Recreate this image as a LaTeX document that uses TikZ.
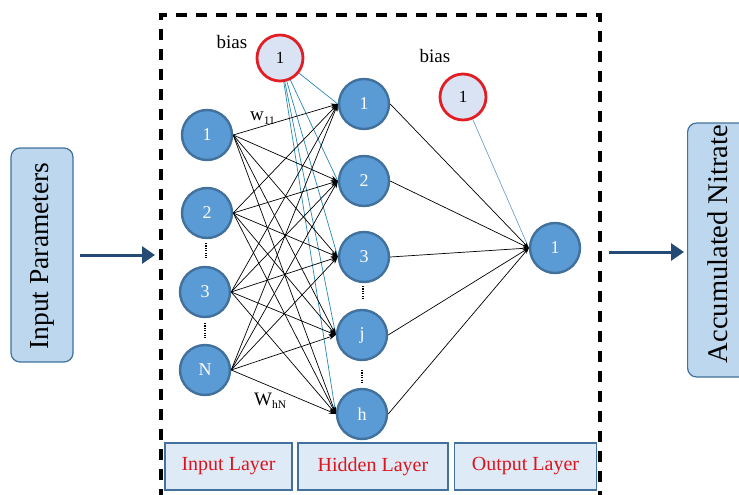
\documentclass[tikz,border=0pt]{standalone}
\usepackage{fontspec}
\setmainfont{Liberation Serif}
\usetikzlibrary{arrows.meta}
\definecolor{nodefill}{RGB}{91,155,213}
\definecolor{nodeedge}{RGB}{65,113,156}
\definecolor{biasfill}{RGB}{218,227,243}
\definecolor{biasred}{RGB}{226,30,36}
\definecolor{sidefill}{RGB}{189,215,238}
\definecolor{layerfill}{RGB}{222,235,247}
\definecolor{arrowblue}{RGB}{36,75,115}
\definecolor{biasline}{RGB}{40,135,175}
\definecolor{biasline2}{RGB}{95,150,200}
\definecolor{labred}{RGB}{220,20,30}
\tikzset{
  neuron/.style={circle,draw=nodeedge,line width=2.4pt,fill=nodefill,minimum size=50pt,inner sep=0pt,text=white,font=\fontsize{18}{20}\selectfont},
  biasnode/.style={circle,draw=biasred,line width=2.8pt,fill=biasfill,minimum size=46pt,inner sep=0pt,font=\fontsize{17}{20}\selectfont},
  sidebox/.style={draw=nodeedge,line width=1.2pt,fill=sidefill,rounded corners=9pt,inner sep=0pt},
  layerbox/.style={draw=nodeedge,line width=1.3pt,fill=layerfill,inner sep=0pt,text=labred,font=\fontsize{20}{22}\selectfont},
  wire/.style={black,line width=0.7pt,-{Stealth[length=7pt,width=5pt]}},
  owire/.style={black,line width=0.7pt,-{Stealth[length=6pt,width=4pt]}},
  bwire/.style={biasline,line width=0.7pt},
  bigarrow/.style={arrowblue,line width=3pt,-{Triangle[length=13pt,width=17pt]}},
  vdots/.style={line width=1.3pt,dash pattern=on 1.2pt off 1.2pt},
  txt/.style={inner sep=0pt,font=\fontsize{19}{22}\selectfont}
}
\newcommand{\mysub}[1]{\raisebox{-3.5pt}{\fontsize{11.5}{12}\selectfont #1}}
\begin{document}
\begin{tikzpicture}[x=1pt,y=-1pt]
\useasboundingbox (0,0) rectangle (739,495);
\clip (0,0) rectangle (739,495);
% dashed frame
\draw[line width=3.4pt,dash pattern=on 11pt off 9pt] (161,500) -- (161,15) -- (600,15) -- (600,500);
% side boxes
\node[sidebox,minimum width=62pt,minimum height=214pt] (inp) at (42,255) {};
\node[rotate=90,font=\fontsize{27.5}{30}\selectfont] (inptxt) at (42,256) {Input Parameters};
\node[sidebox,minimum width=90pt,minimum height=254pt,anchor=west] (outp) at (687,250) {};
\node[rotate=90,font=\fontsize{28.5}{30}\selectfont] (outptxt) at (718,244) {Accumulated Nitrate};
\coordinate (a1s) at (80,255);
\coordinate (a1e) at (155,255);
\coordinate (a2s) at (609,252);
\coordinate (a2e) at (684,252);
\draw[bigarrow] (a1s) -- (a1e);
\draw[bigarrow] (a2s) -- (a2e);
% layer boxes
\node[layerbox,minimum width=127pt,minimum height=47pt] (L1) at (228.5,466.5) {Input Layer};
\node[layerbox,minimum width=150pt,minimum height=47pt] (L2) at (373,466.5) {Hidden Layer};
\node[layerbox,minimum width=142pt,minimum height=47pt] (L3) at (525.5,466.5) {Output Layer};
% input neurons
\node[neuron] (i1) at (207,135) {1};
\node[neuron] (i2) at (207,213) {2};
\node[neuron] (i3) at (205,292) {3};
\node[neuron] (iN) at (205,370) {N};
% hidden neurons
\node[neuron] (h1) at (364,104) {1};
\node[neuron] (h2) at (364,181) {2};
\node[neuron] (h3) at (364,257) {3};
\node[neuron] (hj) at (362,335) {j};
\node[neuron] (hh) at (362,414) {h};
% output
\node[neuron] (o1) at (555,248) {1};
% biases
\node[biasnode] (b1) at (280,58) {1};
\node[biasnode] (b2) at (463,97) {1};
\node[txt] (bt1) at (232,42) {bias};
\node[txt] (bt2) at (435,56) {bias};
% dots
\coordinate (d1a) at (206,243); \coordinate (d1b) at (206,258);
\coordinate (d2a) at (205,323); \coordinate (d2b) at (205,338);
\coordinate (d3a) at (363,286); \coordinate (d3b) at (363,300);
\coordinate (d4a) at (362,370); \coordinate (d4b) at (362,384);
\draw[vdots] (d1a) -- (d1b);
\draw[vdots] (d2a) -- (d2b);
\draw[vdots] (d3a) -- (d3b);
\draw[vdots] (d4a) -- (d4b);
% bias lines
\foreach \h in {h1,h2,h3,hj,hh}{
  \draw[bwire] (b1) -- (\h.west);
}
\draw[biasline2,line width=0.6pt] (b2) -- (o1.west);
% input to hidden
\foreach \i in {i1,i2,i3,iN}{
  \foreach \h in {h1,h2,h3,hj,hh}{
    \draw[wire] (\i.east) -- (\h.west);
  }
}
% hidden to output
\foreach \h in {h1,h2,h3,hj,hh}{
  \draw[owire] (\h.east) -- (o1.west);
}
% weight labels
\node[txt,anchor=base west] (w11) at (250,121) {w\mysub{11}};
\node[txt,anchor=base west] (whn) at (254,405) {W\mysub{hN}};
\end{tikzpicture}
\end{document}
